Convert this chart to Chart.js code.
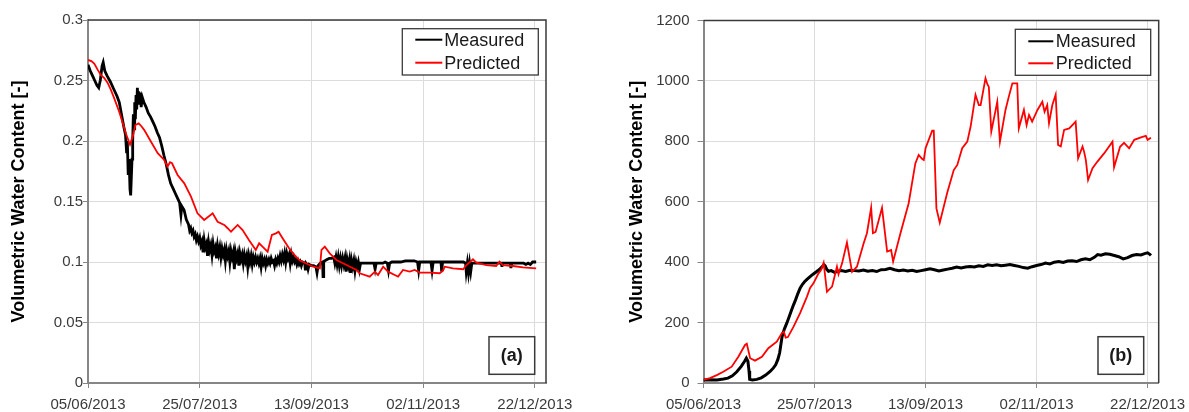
<!DOCTYPE html>
<html>
<head>
<meta charset="utf-8">
<script src="https://cdn.jsdelivr.net/npm/chart.js@4.4.1/dist/chart.umd.min.js"></script>
<style>
  html, body { margin: 0; padding: 0; background: #fff; }
  #wrap { position: relative; width: 1189px; height: 412px; overflow: hidden; }
  canvas { position: absolute; top: 0; }
  #chartA { left: 0; }
  #chartB { left: 594px; }
</style>
</head>
<body>
<div id="wrap">
  <canvas id="chartA" width="594" height="412"></canvas>
  <canvas id="chartB" width="595" height="412"></canvas>
</div>
<script>
// x values are days after 05/06/2013
const xTickLabels = ['05/06/2013', '25/07/2013', '13/09/2013', '02/11/2013', '22/12/2013'];
const seriesNames = ['Measured', 'Predicted'];
const panelTags = ['(a)', '(b)'];

// Panel (a): volumetric water content [-]
const measuredA = [
  [0,0.263],[1,0.258],[2,0.254],[3,0.250],[4,0.246],[4.8,0.244],[5.5,0.250],[6.3,0.262],[6.8,0.265],[7.5,0.258],
  [8.5,0.254],[10,0.249],[11.5,0.243],[13,0.237],[14,0.232],[15,0.222],[16,0.212],[16.8,0.205],[17.3,0.190],[17.6,0.200],
  [18,0.172],[18.4,0.185],[18.8,0.160],[19.1,0.155],[19.4,0.170],[19.7,0.185],[20,0.200],[20.3,0.222],[20.6,0.210],[20.9,0.232],
  [21.2,0.218],[21.5,0.238],[21.8,0.226],[22.1,0.244],[22.4,0.232],[22.7,0.241],[23,0.230],[23.4,0.240],[23.8,0.228],[24.3,0.236],
  [25,0.232],[26,0.228],[27,0.223],[28,0.220],[29,0.216],[30,0.212],[31,0.207],[32,0.203],[33,0.196],[34,0.188],
  [35,0.181],[36,0.172],[37,0.165],[38,0.161],[39,0.157],[40,0.153],[41,0.149],[41.6,0.139],[42,0.146],[43,0.143],
  [44,0.135],[45,0.131],[45.5,0.126],[46,0.128],[46.5,0.124],[47,0.126],[47.5,0.121],[48,0.123],[48.5,0.118],[49,0.121],
  [49.5,0.117],[50,0.120],[50.5,0.114],[51,0.117],[51.5,0.108],[52,0.118],[52.5,0.112],[53,0.115],[53.5,0.105],[54,0.116],
  [54.5,0.110],[55,0.114],[55.5,0.106],[56,0.115],[56.5,0.109],[57,0.112],[57.5,0.103],[58,0.113],[58.5,0.107],[59,0.112],
  [59.5,0.104],[60,0.111],[60.5,0.106],[61,0.110],[61.5,0.101],[62,0.110],[62.5,0.105],[63,0.109],[63.5,0.100],[64,0.109],
  [64.5,0.104],[65,0.108],[65.5,0.094],[66,0.108],[66.5,0.103],[67,0.107],[67.5,0.097],[68,0.107],[68.5,0.102],[69,0.106],
  [69.5,0.099],[70,0.106],[70.5,0.101],[71,0.105],[71.5,0.096],[72,0.105],[72.5,0.100],[73,0.105],[73.5,0.098],[74,0.104],
  [74.5,0.100],[75,0.104],[75.5,0.100],[76,0.103],[76.5,0.099],[77,0.103],[77.5,0.096],[78,0.103],[78.5,0.099],[79,0.102],
  [79.5,0.097],[80,0.102],[80.5,0.099],[81,0.102],[81.5,0.099],[82,0.103],[82.5,0.100],[83,0.101],[83.5,0.097],[84,0.102],
  [84.5,0.099],[85,0.103],[85.5,0.100],[86,0.105],[86.5,0.101],[87,0.106],[87.5,0.102],[88,0.107],[88.5,0.100],[89,0.107],
  [89.5,0.103],[90,0.106],[90.5,0.099],[91,0.106],[91.5,0.101],[92,0.104],[92.5,0.100],[93,0.102],[93.5,0.098],[94,0.101],
  [94.5,0.098],[95,0.100],[95.5,0.097],[96,0.100],[97,0.099],[97.3,0.093],[97.6,0.099],[98,0.098],[98.5,0.094],[99,0.098],
  [100,0.097],[101,0.097],[102,0.096],[102.5,0.091],[103,0.097],[104,0.099],[105,0.100],[105.2,0.088],[105.5,0.100],[106,0.101],
  [107,0.102],[108,0.103],[109,0.103],[110,0.104],[110.5,0.099],[111,0.104],[111.5,0.098],[112,0.104],[112.5,0.097],[113,0.103],
  [113.5,0.097],[114,0.103],[114.5,0.098],[115,0.103],[115.5,0.092],[116,0.102],[116.5,0.097],[117,0.102],[117.5,0.091],[118,0.101],
  [118.5,0.096],[119,0.101],[119.5,0.093],[120,0.100],[120.5,0.096],[121,0.100],[121.5,0.094],[122,0.099],[123,0.099],[124,0.099],
  [125,0.099],[126,0.099],[127,0.099],[128,0.099],[128.5,0.094],[129,0.099],[130,0.099],[131,0.099],[132,0.099],[133,0.100],
  [134,0.099],[134.5,0.093],[135,0.099],[136,0.100],[138,0.100],[140,0.100],[142,0.101],[144,0.101],[146,0.101],[147.5,0.100],
  [148,0.093],[148.5,0.100],[150,0.100],[152,0.100],[153.5,0.100],[154,0.093],[154.5,0.100],[156,0.100],[158,0.100],[158.3,0.092],
  [158.7,0.100],[160,0.100],[162,0.100],[164,0.100],[166,0.100],[168,0.100],[169,0.099],[169.3,0.092],[169.8,0.099],[170.3,0.091],
  [170.8,0.099],[171.3,0.092],[171.8,0.099],[173,0.099],[175,0.099],[177,0.099],[179,0.099],[181,0.099],[183,0.099],[185,0.099],
  [185.3,0.096],[185.6,0.099],[187,0.099],[189,0.099],[189.3,0.095],[189.6,0.099],[191,0.099],[193,0.099],[195,0.099],[196,0.098],
  [197,0.099],[198,0.098],[199,0.100],[200,0.100],[200.6,0.100]
];
const predictedA = [
  [0,0.267],[1.5,0.266],[2.8,0.264],[4.3,0.259],[5.8,0.2545],[7.3,0.252],[8.8,0.248],[10.3,0.242],[12,0.234],[14,0.224],
  [15.5,0.215],[17,0.206],[18.8,0.197],[20,0.2036],[21.2,0.2132],[22.7,0.2146],[24,0.212],[25.2,0.209],[28.2,0.1994],[31.2,0.190],
  [34.1,0.1843],[35.6,0.1788],[36.7,0.1824],[37.6,0.1816],[40.1,0.1719],[43.1,0.165],[46.1,0.154],[49,0.1402],[52,0.1347],[55.8,0.1402],
  [58,0.1333],[61,0.1306],[62.5,0.1279],[64,0.125],[67,0.1306],[69.2,0.1264],[72.1,0.118],[75.1,0.110],[76.6,0.1155],[78.9,0.1113],
  [80.4,0.1085],[82.3,0.1223],[84.1,0.1237],[85.3,0.125],[87.1,0.1196],[90,0.1113],[93,0.1044],[95,0.101],[97.5,0.099],[100.8,0.0961],
  [103.8,0.0948],[104.5,0.110],[106,0.1127],[108.2,0.1072],[111.2,0.1017],[115.7,0.0975],[120.2,0.0934],[121.6,0.0907],[126.1,0.0879],[128.4,0.092],
  [129.8,0.0893],[132.1,0.0961],[134.3,0.092],[137.3,0.0893],[138.8,0.0879],[141,0.0934],[144,0.092],[146.2,0.0934],[148.5,0.0912],[153,0.0912],
  [157.4,0.0907],[158.9,0.0928],[159.7,0.0961],[163.4,0.0948],[167.9,0.094],[169.4,0.0975],[172.3,0.1022],[173.8,0.0994],[178.3,0.0975],[182.7,0.0967],
  [184.2,0.1003],[185.7,0.0975],[190.2,0.0967],[194.7,0.0956],[200.6,0.0948]
];

// Panel (b)
const measuredB = [
  [0,10],[3,11],[6,10],[9,13],[11,16],[13,24],[15,37],[17,55],[18.5,72],[19.3,82],
  [20,72],[20.5,40],[20.8,12],[22,10],[24,12],[26,17],[28,26],[30,38],[31.5,50],[32.5,60],
  [33.5,78],[34.3,100],[34.8,125],[35.3,150],[35.8,165],[36.5,180],[37.5,198],[38.5,218],[39.5,238],[40.5,258],
  [41.5,276],[42.5,296],[43.5,314],[44.5,326],[45.5,335],[46.6,343],[48,352],[49.5,361],[51,369],[52.5,378],
  [53.5,386],[54.2,392],[54.8,388],[55.5,376],[56.3,370],[57.5,372],[59,366],[60.5,370],[62,372],[64,369],
  [66,373],[68,372],[70,371],[72,374],[74,370],[76,372],[78,369],[80,375],[82,376],[84,380],
  [86,375],[88,372],[90,374],[92,371],[94,373],[96,369],[98,372],[100,375],[102,378],[104,375],
  [106,371],[108,374],[110,377],[112,380],[114,384],[116,381],[118,384],[120,386],[122,384],[124,388],
  [126,386],[128,391],[130,389],[132,391],[134,388],[136,390],[138,392],[140,389],[142,386],[144,382],
  [146,380],[148,385],[150,389],[152,392],[154,397],[156,394],[158,400],[160,402],[162,399],[164,404],
  [166,405],[168,402],[170,408],[172,411],[174,408],[176,416],[177.5,425],[179,423],[181,428],[183,426],
  [185,422],[187,418],[189,411],[191,415],[193,422],[195,425],[197,424],[199,429],[200,431],[201,426],
  [201.5,422]
];
const predictedB = [
  [0,10],[2.9,16],[6,26],[8.9,37],[12.7,54],[15.7,87],[18.7,126],[19.5,130],[21,82],[23.2,74],
  [26.3,87],[29.2,115],[33,137],[35.3,165],[36.2,170],[37,150],[38,152],[40.5,186],[43.5,231],[46.6,286],
  [48,315],[49.5,330],[51.8,363],[53,375],[54.1,398],[55.6,302],[57.9,319],[60.1,385],[60.8,360],[62.4,396],
  [64.6,465],[66.9,368],[69.1,385],[72.1,462],[73.6,496],[75.5,580],[76.3,496],[77.5,500],[80.4,580],[82.7,435],
  [84.5,440],[85.4,402],[88.7,496],[92.4,595],[95.4,727],[96.9,755],[98.4,742],[99.2,738],[100,777],[103,835],
  [103.7,835],[104.9,578],[106.4,531],[109.7,628],[112.7,705],[114.3,722],[116.5,777],[118.8,799],[120.3,849],[122.5,954],
  [124,920],[124.8,920],[127,1009],[127.8,990],[128.5,980],[129.6,832],[132.3,931],[133.5,799],[136,904],[137.5,948],
  [139.1,992],[141.3,992],[142,843],[144.3,904],[145.5,854],[146.6,887],[148,865],[150.4,904],[152.6,931],[153.6,898],
  [154.8,920],[155.6,860],[157.1,920],[158.6,954],[159.7,788],[160.9,783],[162.4,838],[164.7,843],[167.6,865],[168.7,744],
  [170.7,783],[171.4,766],[172.2,738],[173.2,672],[175.2,711],[177.4,733],[180.4,760],[184.2,799],[184.9,714],[187.6,782],
  [189.4,795],[191.7,777],[194,805],[197,813],[199.2,818],[200,805],[201.5,812]
];

const FONT = '"Liberation Sans", Arial, Helvetica, sans-serif';
const toPoints = arr => arr.map(p => ({ x: p[0], y: p[1] }));

// Frame edges, inset legend and panel tag drawn over the plot
function panelDecor(o) {
  return {
    id: 'panelDecor',
    afterDatasetsDraw(chart) {
      const ctx = chart.ctx, a = chart.chartArea;
      ctx.save();
      ctx.strokeStyle = '#3a3a3a';
      ctx.lineWidth = 1.5;
      ctx.beginPath();
      ctx.moveTo(a.left, a.top);
      ctx.lineTo(a.right, a.top);
      ctx.lineTo(a.right, a.bottom);
      ctx.stroke();

      const bx = a.right - o.legRight - o.legW, by = a.top + o.legTop;
      ctx.fillStyle = '#fff';
      ctx.fillRect(bx, by, o.legW, o.legH);
      ctx.strokeStyle = '#3a3a3a';
      ctx.lineWidth = 1.3;
      ctx.strokeRect(bx, by, o.legW, o.legH);
      ctx.font = '18px ' + FONT;
      ctx.textAlign = 'left';
      ctx.textBaseline = 'middle';
      chart.data.datasets.forEach((ds, i) => {
        const y = by + o.rowY[i];
        ctx.strokeStyle = ds.borderColor;
        ctx.lineWidth = 2;
        ctx.beginPath();
        ctx.moveTo(bx + o.lineX, y);
        ctx.lineTo(bx + o.lineX + o.lineLen, y);
        ctx.stroke();
        ctx.fillStyle = '#1a1a1a';
        ctx.fillText(ds.label, bx + o.textX, y + 1);
      });

      const tx = a.right - o.tagRight - o.tagW, ty = a.bottom - o.tagBottom - o.tagH;
      ctx.fillStyle = '#fff';
      ctx.fillRect(tx, ty, o.tagW, o.tagH);
      ctx.strokeStyle = '#3a3a3a';
      ctx.lineWidth = 1.5;
      ctx.strokeRect(tx, ty, o.tagW, o.tagH);
      ctx.font = 'bold 18px ' + FONT;
      ctx.textAlign = 'center';
      ctx.fillStyle = '#1a1a1a';
      ctx.fillText(o.tag, tx + o.tagW / 2, ty + o.tagH / 2 + 1);
      ctx.restore();
    }
  };
}

function buildPanel(id, measured, predicted, p) {
  return new Chart(document.getElementById(id), {
    type: 'line',
    data: {
      datasets: [
        { label: seriesNames[0], data: toPoints(measured), borderColor: '#000000', borderWidth: p.measuredWidth,
          pointRadius: 0, tension: 0, order: 2 },
        { label: seriesNames[1], data: toPoints(predicted), borderColor: '#ff0000', borderWidth: 1.8,
          pointRadius: 0, tension: 0, order: 1 }
      ]
    },
    options: {
      responsive: false,
      devicePixelRatio: 1,
      animation: false,
      events: [],
      layout: { padding: { top: p.top, right: p.right, bottom: 0, left: 0 } },
      plugins: { legend: { display: false }, tooltip: { enabled: false } },
      scales: {
        x: {
          type: 'linear', min: 0, max: 205,
          // fixed axis band; label overhang is absorbed by the layout padding
          afterFit(s) { s.height = 29; s.paddingLeft = 0; s.paddingRight = 0; },
          ticks: {
            stepSize: 50, includeBounds: false, autoSkip: false, maxRotation: 0,
            padding: 8, color: '#3a3a3a', font: { family: FONT, size: 15 },
            callback: v => xTickLabels[Math.round(v / 50)]
          },
          grid: { color: '#dcdcdc', lineWidth: 1, tickColor: '#868686', tickLength: 5 },
          border: { color: '#868686', width: 2 }
        },
        y: {
          min: 0, max: p.yMax,
          afterFit(s) { s.width = p.axisW; s.paddingTop = 0; s.paddingBottom = 0; },
          ticks: {
            stepSize: p.yStep, includeBounds: false, padding: p.yTickPad,
            color: '#3a3a3a', font: { family: FONT, size: 15 },
            callback: v => String(Math.round(v * 1000) / 1000)
          },
          grid: { color: '#dcdcdc', lineWidth: 1, tickColor: '#868686', tickLength: p.yTickLen },
          border: { color: '#868686', width: 2 },
          title: {
            display: true, text: 'Volumetric Water Content [-]', color: '#000',
            font: { family: FONT, size: 18, weight: 'bold' },
            padding: { top: p.titlePad, bottom: 0 }
          }
        }
      }
    },
    plugins: [panelDecor(p.decor)]
  });
}

buildPanel('chartA', measuredA, predictedA, {
  top: 20, right: 48, axisW: 88, yMax: 0.3, yStep: 0.05, yTickPad: 0, yTickLen: 5, titlePad: 8,
  measuredWidth: 2.8,
  decor: { legRight: 7.7, legTop: 8.7, legW: 136, legH: 46.3, rowY: [11, 34], lineX: 13, lineLen: 27, textX: 42,
           tag: panelTags[0], tagRight: 11.3, tagBottom: 8.7, tagW: 45.7, tagH: 37.6 }
});
buildPanel('chartB', measuredB, predictedB, {
  top: 20.5, right: 30.3, axisW: 109.5, yMax: 1200, yStep: 200, yTickPad: 8, yTickLen: 6, titlePad: 32,
  measuredWidth: 3,
  decor: { legRight: 8, legTop: 8.8, legW: 135.4, legH: 46, rowY: [12, 34], lineX: 13, lineLen: 25, textX: 40.4,
           tag: panelTags[1], tagRight: 15, tagBottom: 8.7, tagW: 45.7, tagH: 37.6 }
});
</script>
</body>
</html>
